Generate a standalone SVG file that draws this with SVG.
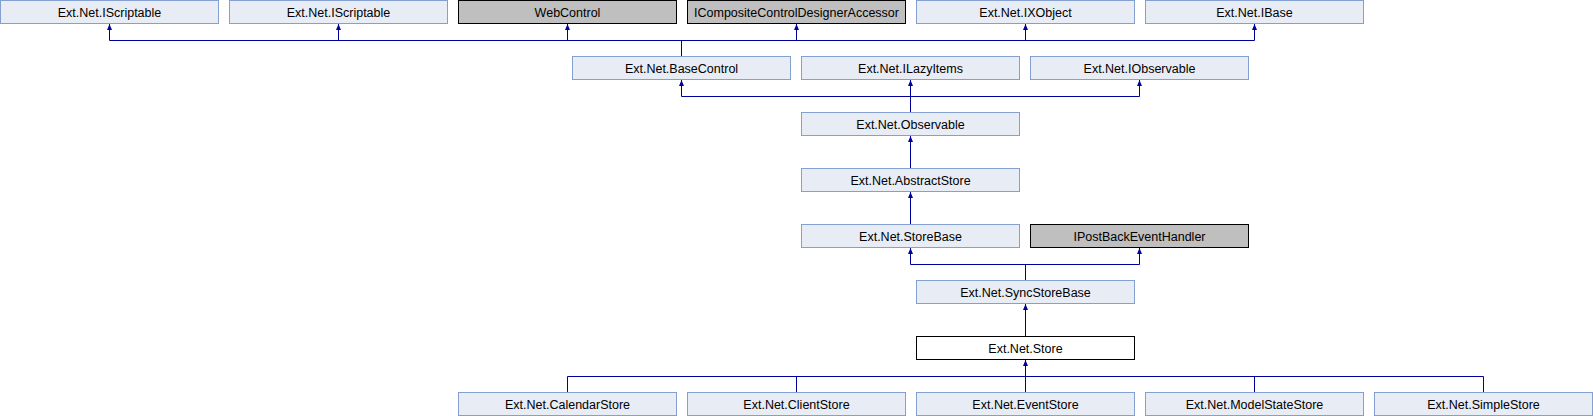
<svg xmlns="http://www.w3.org/2000/svg" width="1593" height="416" viewBox="0 0 1593 416">
<style>
.n rect{fill:#e8ecf5;stroke:#84a0d1;stroke-width:1}
.n.g rect{fill:#bfbfbf;stroke:#000}
.n.w rect{fill:#fff;stroke:#000}
.n text{font-family:"Liberation Sans",Arial,sans-serif;font-size:12.5px;fill:#000;text-anchor:middle}
.e path{fill:none;stroke:#00009a;stroke-width:1}
.e path.a{marker-end:url(#ah)}
</style>
<defs>
<marker id="ah" viewBox="0 0 6 5" refX="6" refY="2.5" markerWidth="6" markerHeight="5" markerUnits="userSpaceOnUse" orient="auto">
<path d="M0,0 L6,2.5 L0,5 z" fill="#00009a"/>
</marker>
</defs>
<rect width="1593" height="416" fill="#fff"/>
<g class="e" id="connectors">
<path d="M109.5,40.5 H1254.5"/>
<path class="a" d="M109.5,40.5 V24"/>
<path class="a" d="M338.5,40.5 V24"/>
<path class="a" d="M567.5,40.5 V24"/>
<path class="a" d="M796.5,40.5 V24"/>
<path class="a" d="M1025.5,40.5 V24"/>
<path class="a" d="M1254.5,40.5 V24"/>
<path d="M681.5,56 V40.5"/>
<path d="M681.5,96.5 H1139.5"/>
<path class="a" d="M681.5,96.5 V80"/>
<path class="a" d="M910.5,112 V80"/>
<path class="a" d="M1139.5,96.5 V80"/>
<path class="a" d="M910.5,168 V136"/>
<path class="a" d="M910.5,224 V192"/>
<path d="M910.5,264.5 H1139.5"/>
<path class="a" d="M910.5,264.5 V248"/>
<path class="a" d="M1139.5,264.5 V248"/>
<path d="M1025.5,280 V264.5"/>
<path class="a" d="M1025.5,336 V304"/>
<path d="M567.5,376.5 H1483.5"/>
<path d="M567.5,392 V376.5"/>
<path d="M796.5,392 V376.5"/>
<path d="M1254.5,392 V376.5"/>
<path d="M1483.5,392 V376.5"/>
<path class="a" d="M1025.5,392 V360"/>
</g>
<g class="n" id="n_iscriptable1"><rect x="0.5" y="0.5" width="218" height="23"/><text x="109.5" y="16.5">Ext.Net.IScriptable</text></g>
<g class="n" id="n_iscriptable2"><rect x="229.5" y="0.5" width="218" height="23"/><text x="338.5" y="16.5">Ext.Net.IScriptable</text></g>
<g class="n g" id="n_webcontrol"><rect x="458.5" y="0.5" width="218" height="23"/><text x="567.5" y="16.5">WebControl</text></g>
<g class="n g" id="n_iccda"><rect x="687.5" y="0.5" width="218" height="23"/><text x="796.5" y="16.5">ICompositeControlDesignerAccessor</text></g>
<g class="n" id="n_ixobject"><rect x="916.5" y="0.5" width="218" height="23"/><text x="1025.5" y="16.5">Ext.Net.IXObject</text></g>
<g class="n" id="n_ibase"><rect x="1145.5" y="0.5" width="218" height="23"/><text x="1254.5" y="16.5">Ext.Net.IBase</text></g>
<g class="n" id="n_basecontrol"><rect x="572.5" y="56.5" width="218" height="23"/><text x="681.5" y="72.5">Ext.Net.BaseControl</text></g>
<g class="n" id="n_ilazyitems"><rect x="801.5" y="56.5" width="218" height="23"/><text x="910.5" y="72.5">Ext.Net.ILazyItems</text></g>
<g class="n" id="n_iobservable"><rect x="1030.5" y="56.5" width="218" height="23"/><text x="1139.5" y="72.5">Ext.Net.IObservable</text></g>
<g class="n" id="n_observable"><rect x="801.5" y="112.5" width="218" height="23"/><text x="910.5" y="128.5">Ext.Net.Observable</text></g>
<g class="n" id="n_abstractstore"><rect x="801.5" y="168.5" width="218" height="23"/><text x="910.5" y="184.5">Ext.Net.AbstractStore</text></g>
<g class="n" id="n_storebase"><rect x="801.5" y="224.5" width="218" height="23"/><text x="910.5" y="240.5">Ext.Net.StoreBase</text></g>
<g class="n g" id="n_ipostback"><rect x="1030.5" y="224.5" width="218" height="23"/><text x="1139.5" y="240.5">IPostBackEventHandler</text></g>
<g class="n" id="n_syncstorebase"><rect x="916.5" y="280.5" width="218" height="23"/><text x="1025.5" y="296.5">Ext.Net.SyncStoreBase</text></g>
<g class="n w" id="n_store"><rect x="916.5" y="336.5" width="218" height="23"/><text x="1025.5" y="352.5">Ext.Net.Store</text></g>
<g class="n" id="n_calendarstore"><rect x="458.5" y="392.5" width="218" height="23"/><text x="567.5" y="408.5">Ext.Net.CalendarStore</text></g>
<g class="n" id="n_clientstore"><rect x="687.5" y="392.5" width="218" height="23"/><text x="796.5" y="408.5">Ext.Net.ClientStore</text></g>
<g class="n" id="n_eventstore"><rect x="916.5" y="392.5" width="218" height="23"/><text x="1025.5" y="408.5">Ext.Net.EventStore</text></g>
<g class="n" id="n_modelstatestore"><rect x="1145.5" y="392.5" width="218" height="23"/><text x="1254.5" y="408.5">Ext.Net.ModelStateStore</text></g>
<g class="n" id="n_simplestore"><rect x="1374.5" y="392.5" width="218" height="23"/><text x="1483.5" y="408.5">Ext.Net.SimpleStore</text></g>
</svg>
